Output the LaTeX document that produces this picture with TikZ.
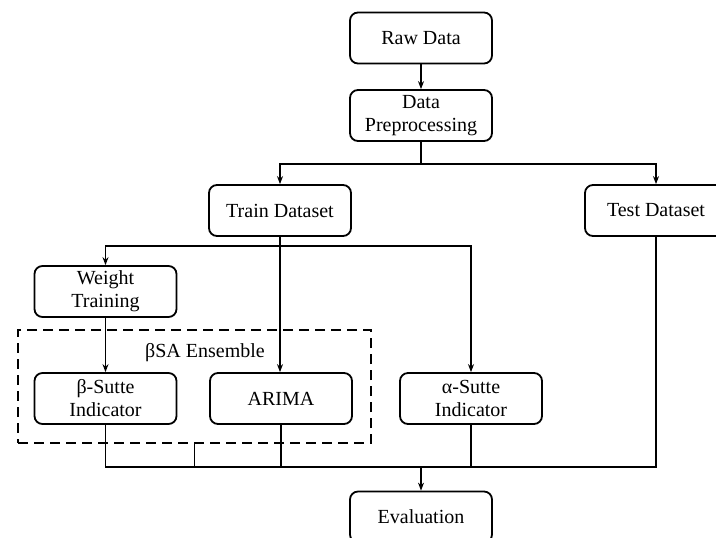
\documentclass[tikz,border=0pt]{standalone}
\usepackage{fontspec}
\setmainfont{Liberation Serif}
\usetikzlibrary{arrows.meta}

\tikzset{
  stage/.style={draw,rounded corners=4pt,line width=0.9pt,minimum width=71pt,
                minimum height=25.5pt,align=center,inner sep=1pt,
                font=\fontsize{10}{11.5}\selectfont},
  ensbox/.style={draw,dashed,dash pattern=on 5pt off 3pt,line width=1.1pt,
                 minimum width=176.5pt,minimum height=56.5pt,inner sep=0pt},
  flow/.style={line width=0.6pt},
  flowarrow/.style={flow,-{Stealth[length=4pt,width=3pt]}}
}

\begin{document}
\begin{tikzpicture}[x=0.5pt,y=-0.5pt]
  \useasboundingbox (0,0) rectangle (716,537);
  \node[ensbox] (ens)    at (194.5,386.5) {};
  \node         (enslbl) at (205,353) {\fontsize{10}{12}\selectfont βSA Ensemble};
  \begin{scope}[every node/.style={stage}]
    \node (raw)    at (421,38)    {Raw Data};
    \node (prep)   at (421,115.5) {Data\\Preprocessing};
    \node (train)  at (280,210.5) {Train Dataset};
    \node (test)   at (656,210.5) {Test Dataset};
    \node (weight) at (105.5,291.5) {Weight\\Training};
    \node (beta)   at (105.5,398.5) {β-Sutte\\Indicator};
    \node (arima)  at (281,398.5) {ARIMA};
    \node (alpha)  at (471,398.5) {α-Sutte\\Indicator};
    \node (eval)   at (421,517)   {Evaluation};
  \end{scope}
  \coordinate (split1) at (421,164);
  \coordinate (split2) at (280,246);
  \coordinate (join)   at (421,467);
  \draw[flowarrow] (raw) -- (prep);
  \draw[flow]      (prep) -- (split1);
  \draw[flowarrow] (split1) -| (train.north);
  \draw[flowarrow] (split1) -| (test.north);
  \draw[flowarrow] (train.south) -- (train.south |- arima.north);
  \draw[flowarrow] (split2) -| (weight.north);
  \draw[flowarrow] (split2) -| (alpha.north);
  \draw[flowarrow] (weight) -- (beta);
  \draw[flow] (beta.south) |- (join);
  \draw[flow] (test.south) |- (join);
  \draw[flow] (arima.south) -- (arima.south |- join);
  \draw[flow] (alpha.south) -- (alpha.south |- join);
  \draw[flow] (ens.south) -- (ens.south |- join);
  \draw[flowarrow] (join) -- (eval);
\end{tikzpicture}
\end{document}
